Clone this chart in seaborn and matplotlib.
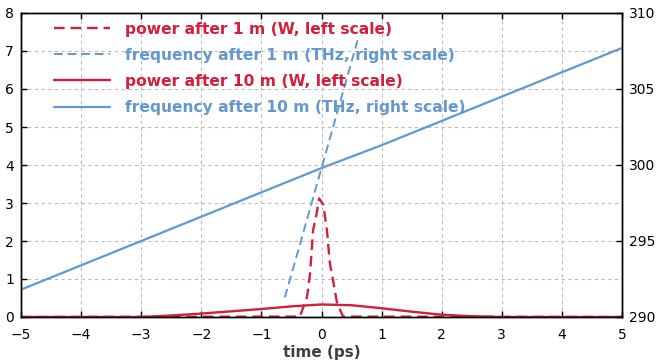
import numpy as np
import matplotlib
matplotlib.use("Agg")
import matplotlib.pyplot as plt
import seaborn as sns

sns.set_theme(style="white")
plt.rcParams['font.family'] = ['DejaVu Sans']

RED = '#d2203a'
BLUE = '#6398cf'

# power after 1 m (W)
t_p1 = [-5, -0.36, -0.24, -0.19, -0.14, -0.09, -0.04, 0.03, 0.09, 0.14, 0.20, 0.26, 0.36, 5]
p1 = [0, 0.01, 0.53, 1.15, 2.29, 2.64, 3.12, 2.95, 2.29, 1.41, 0.89, 0.36, 0.01, 0]

# frequency after 1 m (THz)
t_f1 = [-0.61, -0.4, -0.2, 0.0, 0.2, 0.4, 0.60]
f1 = [291.3, 294.2, 297.0, 299.8, 302.6, 305.4, 308.2]

# power after 10 m (W)
t_p10 = [-5, -3, -2.5, -2, -1.5, -1, -0.5, 0, 0.5, 1, 1.5, 2, 2.5, 3, 5]
p10 = [0, 0, 0.04, 0.09, 0.15, 0.21, 0.28, 0.33, 0.31, 0.23, 0.14, 0.06, 0.02, 0, 0]

# frequency after 10 m (THz)
t_f10 = [-5, -4, -3, -2, -1, 0, 1, 2, 3, 4, 5]
f10 = [291.8, 293.4, 295.0, 296.6, 298.2, 299.8, 301.3, 302.9, 304.5, 306.1, 307.7]

fig = plt.figure(figsize=(6.6, 3.63), dpi=100)
ax = fig.add_axes([21/660, 1-317/363, 601/660, 304/363])
ax2 = ax.twinx()

dash = (0, (4.5, 2.5))
sns.lineplot(x=t_p1, y=p1, ax=ax, color=RED, linestyle=dash, linewidth=1.7,
             label='power after 1 m (W, left scale)', legend=False)
sns.lineplot(x=t_f1, y=f1, ax=ax2, color=BLUE, linestyle=dash, linewidth=1.4,
             label='frequency after 1 m (THz, right scale)', legend=False)
sns.lineplot(x=t_p10, y=p10, ax=ax, color=RED, linewidth=1.7,
             label='power after 10 m (W, left scale)', legend=False)
sns.lineplot(x=t_f10, y=f10, ax=ax2, color=BLUE, linewidth=1.6,
             label='frequency after 10 m (THz, right scale)', legend=False)

ax.set_xlim(-5, 5)
ax.set_ylim(0, 8)
ax2.set_ylim(290, 310)
ax.set_xticks(range(-5, 6))
ax.set_yticks(range(0, 9))
ax2.set_yticks(range(290, 311, 5))

ax.grid(True, color='#bbbbbb', linestyle=(0, (3, 3)), linewidth=0.8)
ax.set_axisbelow(True)

for a in (ax, ax2):
    for s in a.spines.values():
        s.set_color('black')
        s.set_linewidth(1.0)
ax.tick_params(axis='both', direction='in', length=4, width=1, labelsize=10,
               top=True, bottom=True, left=True, right=False, colors='black', pad=5)
ax.tick_params(axis='x', pad=8)
ax2.tick_params(axis='y', direction='in', length=4, width=1, labelsize=10, colors='black', pad=5)

ax.set_xlabel('time (ps)', fontsize=11, fontweight='bold', color='#404040', labelpad=2)
ax.set_ylabel('')
ax2.set_ylabel('')

h1, l1 = ax.get_legend_handles_labels()
h2, l2 = ax2.get_legend_handles_labels()
handles = [h1[0], h2[0], h1[1], h2[1]]
labels = [l1[0], l2[0], l1[1], l2[1]]
leg = ax2.legend(handles, labels, loc='upper left', bbox_to_anchor=(0.055, 0.972),
                 frameon=False, borderpad=0, borderaxespad=0, handlelength=3.6,
                 handletextpad=0.95, labelspacing=0.72,
                 prop={'weight': 'bold', 'size': 11.2})
for text, line in zip(leg.get_texts(), leg.get_lines()):
    text.set_color(line.get_color())

fig.savefig('out.png', dpi=100)
